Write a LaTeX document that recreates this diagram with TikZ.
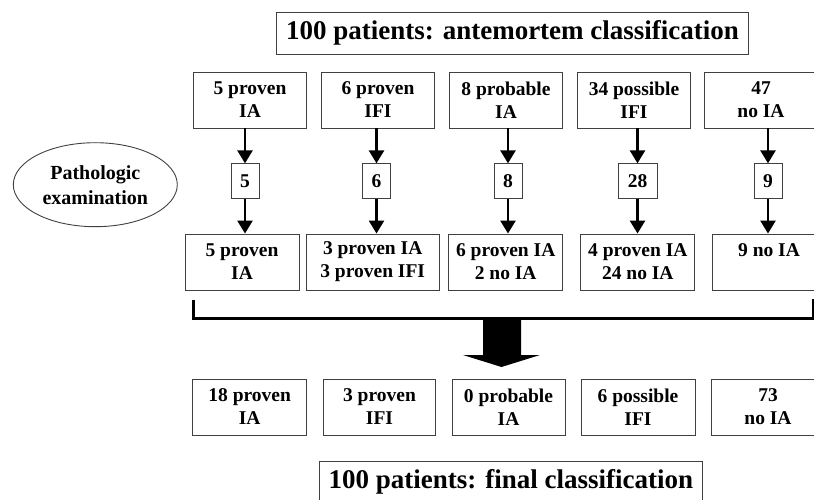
\documentclass[tikz,border=0pt]{standalone}
\usepackage{fontspec}
\setmainfont{Liberation Serif}
\usetikzlibrary{arrows.meta,shapes.geometric}
\begin{document}
\begin{tikzpicture}[x=1pt,y=-1pt,
  box/.style={draw=black!75, line width=0.9pt, minimum width=113pt, minimum height=56pt, align=center, font=\fontsize{19.5}{23}\selectfont\bfseries, inner sep=0pt},
  num/.style={draw=black!75, line width=0.9pt, minimum width=28pt, minimum height=35pt, font=\fontsize{19.5}{23}\selectfont\bfseries, inner sep=0pt},
  ttl/.style={draw=black!75, line width=0.9pt, minimum height=42pt, font=\fontsize{27}{30}\selectfont\bfseries, inner sep=0pt},
  arr/.style={line width=2.6pt, -{Triangle[width=15pt,length=13pt]}},
  brk/.style={line width=3pt},
]
\useasboundingbox (0,0) rectangle (814,500);

% titles
\node[ttl, minimum width=471.6pt] (t1) at (512.5,33) {100 patients: antemortem classification};
\node[ttl, minimum width=383pt] (t2) at (510.8,482) {100 patients: final classification};

% ellipse
\node[draw=black!75, line width=0.9pt, ellipse, minimum width=164pt, minimum height=84pt, inner sep=0pt, align=center, font=\fontsize{20}{25}\selectfont\bfseries] (pe) at (95.3,184.7) {Pathologic\\examination};

% top row
\node[box] (a1) at (250,100) {5 proven\\IA};
\node[box] (a2) at (378,100) {6 proven\\IFI};
\node[box] (a3) at (506,100) {8 probable\\IA};
\node[box] (a4) at (634,100) {34 possible\\IFI};
\node[box] (a5) at (761,100) {47\\no IA};

% small number boxes
\node[num] (s1) at (245,181.3) {5};
\node[num] (s2) at (376.5,181.3) {6};
\node[num] (s3) at (508,181.3) {8};
\node[num, minimum width=39pt] (s4) at (637.5,181.3) {28};
\node[num] (s5) at (768,181.3) {9};

% second row
\node[box, minimum width=114pt] (b1) at (242,262) {5 proven\\IA};
\node[box, minimum width=133pt] (b2) at (372.7,262) {3 proven IA\\3 proven IFI};
\node[box, minimum width=114pt] (b3) at (505.7,262) {6 proven IA\\2 no IA};
\node[box, minimum width=114pt] (b4) at (637.8,262) {4 proven IA\\24 no IA};
\node[box, minimum width=114pt] (b5) at (769,262) {9 no IA\\\phantom{I}};

% arrows
\foreach \i in {1,...,5}{
  \draw[arr] (s\i |- a\i.south) -- (s\i.north);
  \draw[arr] (s\i.south) -- (s\i |- b\i.north);
}

% bracket
\coordinate (bl) at (193.3,300);
\coordinate (br) at (813.3,299);
\coordinate (bb) at (0,318.3);
\draw[brk] (bl) -- (bl |- bb) -- (br |- bb) -- (br);

% big arrow
\fill (483,318) -- (521,318) -- (521,355) -- (540,355) -- (501.5,367) -- (463,355) -- (483,355) -- cycle;

% bottom row
\node[box, minimum width=114pt] (c1) at (249.7,407) {18 proven\\IA};
\node[box, minimum width=112.4pt] (c2) at (379.5,407) {3 proven\\IFI};
\node[box, minimum width=113pt] (c3) at (508.5,407) {0 probable\\IA};
\node[box, minimum width=114pt] (c4) at (638,407) {6 possible\\IFI};
\node[box, minimum width=114pt] (c5) at (768,407) {73\\no IA};
\end{tikzpicture}
\end{document}
